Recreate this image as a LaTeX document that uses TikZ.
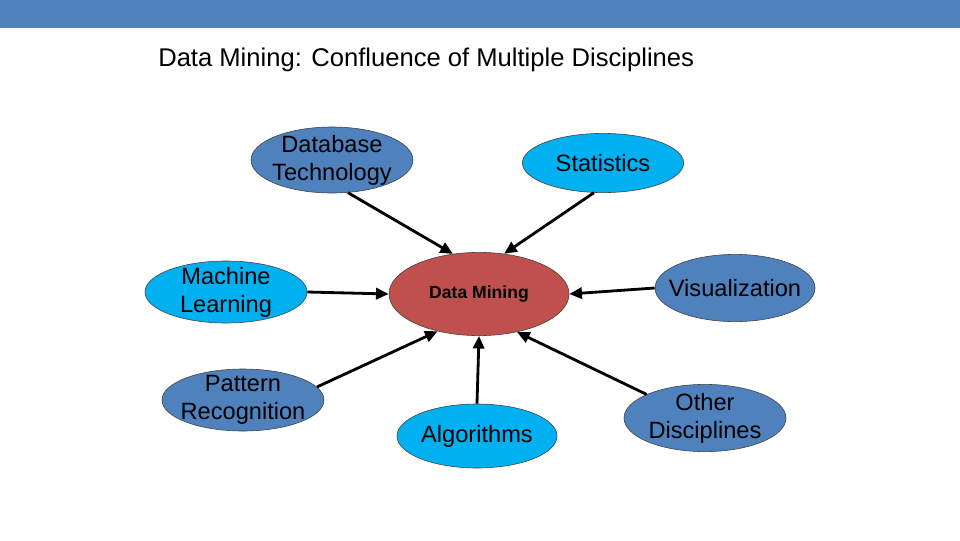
\documentclass[tikz,border=0pt]{standalone}
\usepackage{fontspec}
\setmainfont{Liberation Sans}
\usetikzlibrary{shapes.geometric,arrows.meta}
\definecolor{barblue}{HTML}{4F81BD}
\definecolor{steel}{HTML}{4F81BD}
\definecolor{cyanblue}{HTML}{00B0F0}
\definecolor{minered}{HTML}{C0504D}

\begin{document}
\begin{tikzpicture}[x=0.025cm,y=-0.025cm,
    >={Triangle[length=9pt,width=8pt]},
    blob/.style={ellipse,draw=black!75,thin,inner sep=-12pt,
      minimum width=4.05cm,minimum height=1.6cm,align=center,
      font=\fontsize{16.8}{19.8}\selectfont},
    link/.style={->,line width=2pt}]
  \useasboundingbox (0,0) rectangle (960,540);

  % Top bar and title
  \fill[barblue] (0,0) rectangle (960,28);
  \node[anchor=west,inner sep=0pt,font=\fontsize{18.2}{22}\selectfont] (title) at (158,60)
    {Data Mining: Confluence of Multiple Disciplines};

  % The centre
  \node[blob,fill=minered,minimum width=4.5cm,minimum height=2.08cm,
    font=\fontsize{12.5}{15}\selectfont\bfseries] (dm) at (479,294) {Data Mining};

  % Disciplines around it
  \node[blob,fill=steel,minimum height=1.65cm] (db) at (332,160) {Database\\Technology};
  \node[blob,fill=cyanblue,minimum width=4.03cm,minimum height=1.48cm] (stat) at (603,163) {Statistics};
  \node[blob,fill=cyanblue,minimum height=1.55cm] (ml) at (226,292) {Machine\\Learning};
  \node[blob,fill=steel,minimum width=4cm,minimum height=1.68cm] (vis) at (735,288) {Visualization};
  \node[blob,fill=steel,minimum height=1.55cm] (pr) at (243,400) {Pattern\\Recognition};
  \node[blob,fill=cyanblue,minimum width=4cm] (alg) at (477,436) {Algorithms};
  \node[blob,fill=steel,minimum height=1.68cm] (od) at (705,418) {Other\\Disciplines};

  % Arrows into the centre
  \draw[link] (db.-64) -- (dm.123);
  \draw[link] (stat.-107) -- (dm.58);
  \draw[link] (ml.east) -- (dm.west);
  \draw[link] (vis.west) -- (dm.east);
  \draw[link] (pr.10) -- (dm.222);
  \draw[link] (alg.north) -- (dm.south);
  \draw[link] (od.158) -- (dm.-45);
\end{tikzpicture}
\end{document}
